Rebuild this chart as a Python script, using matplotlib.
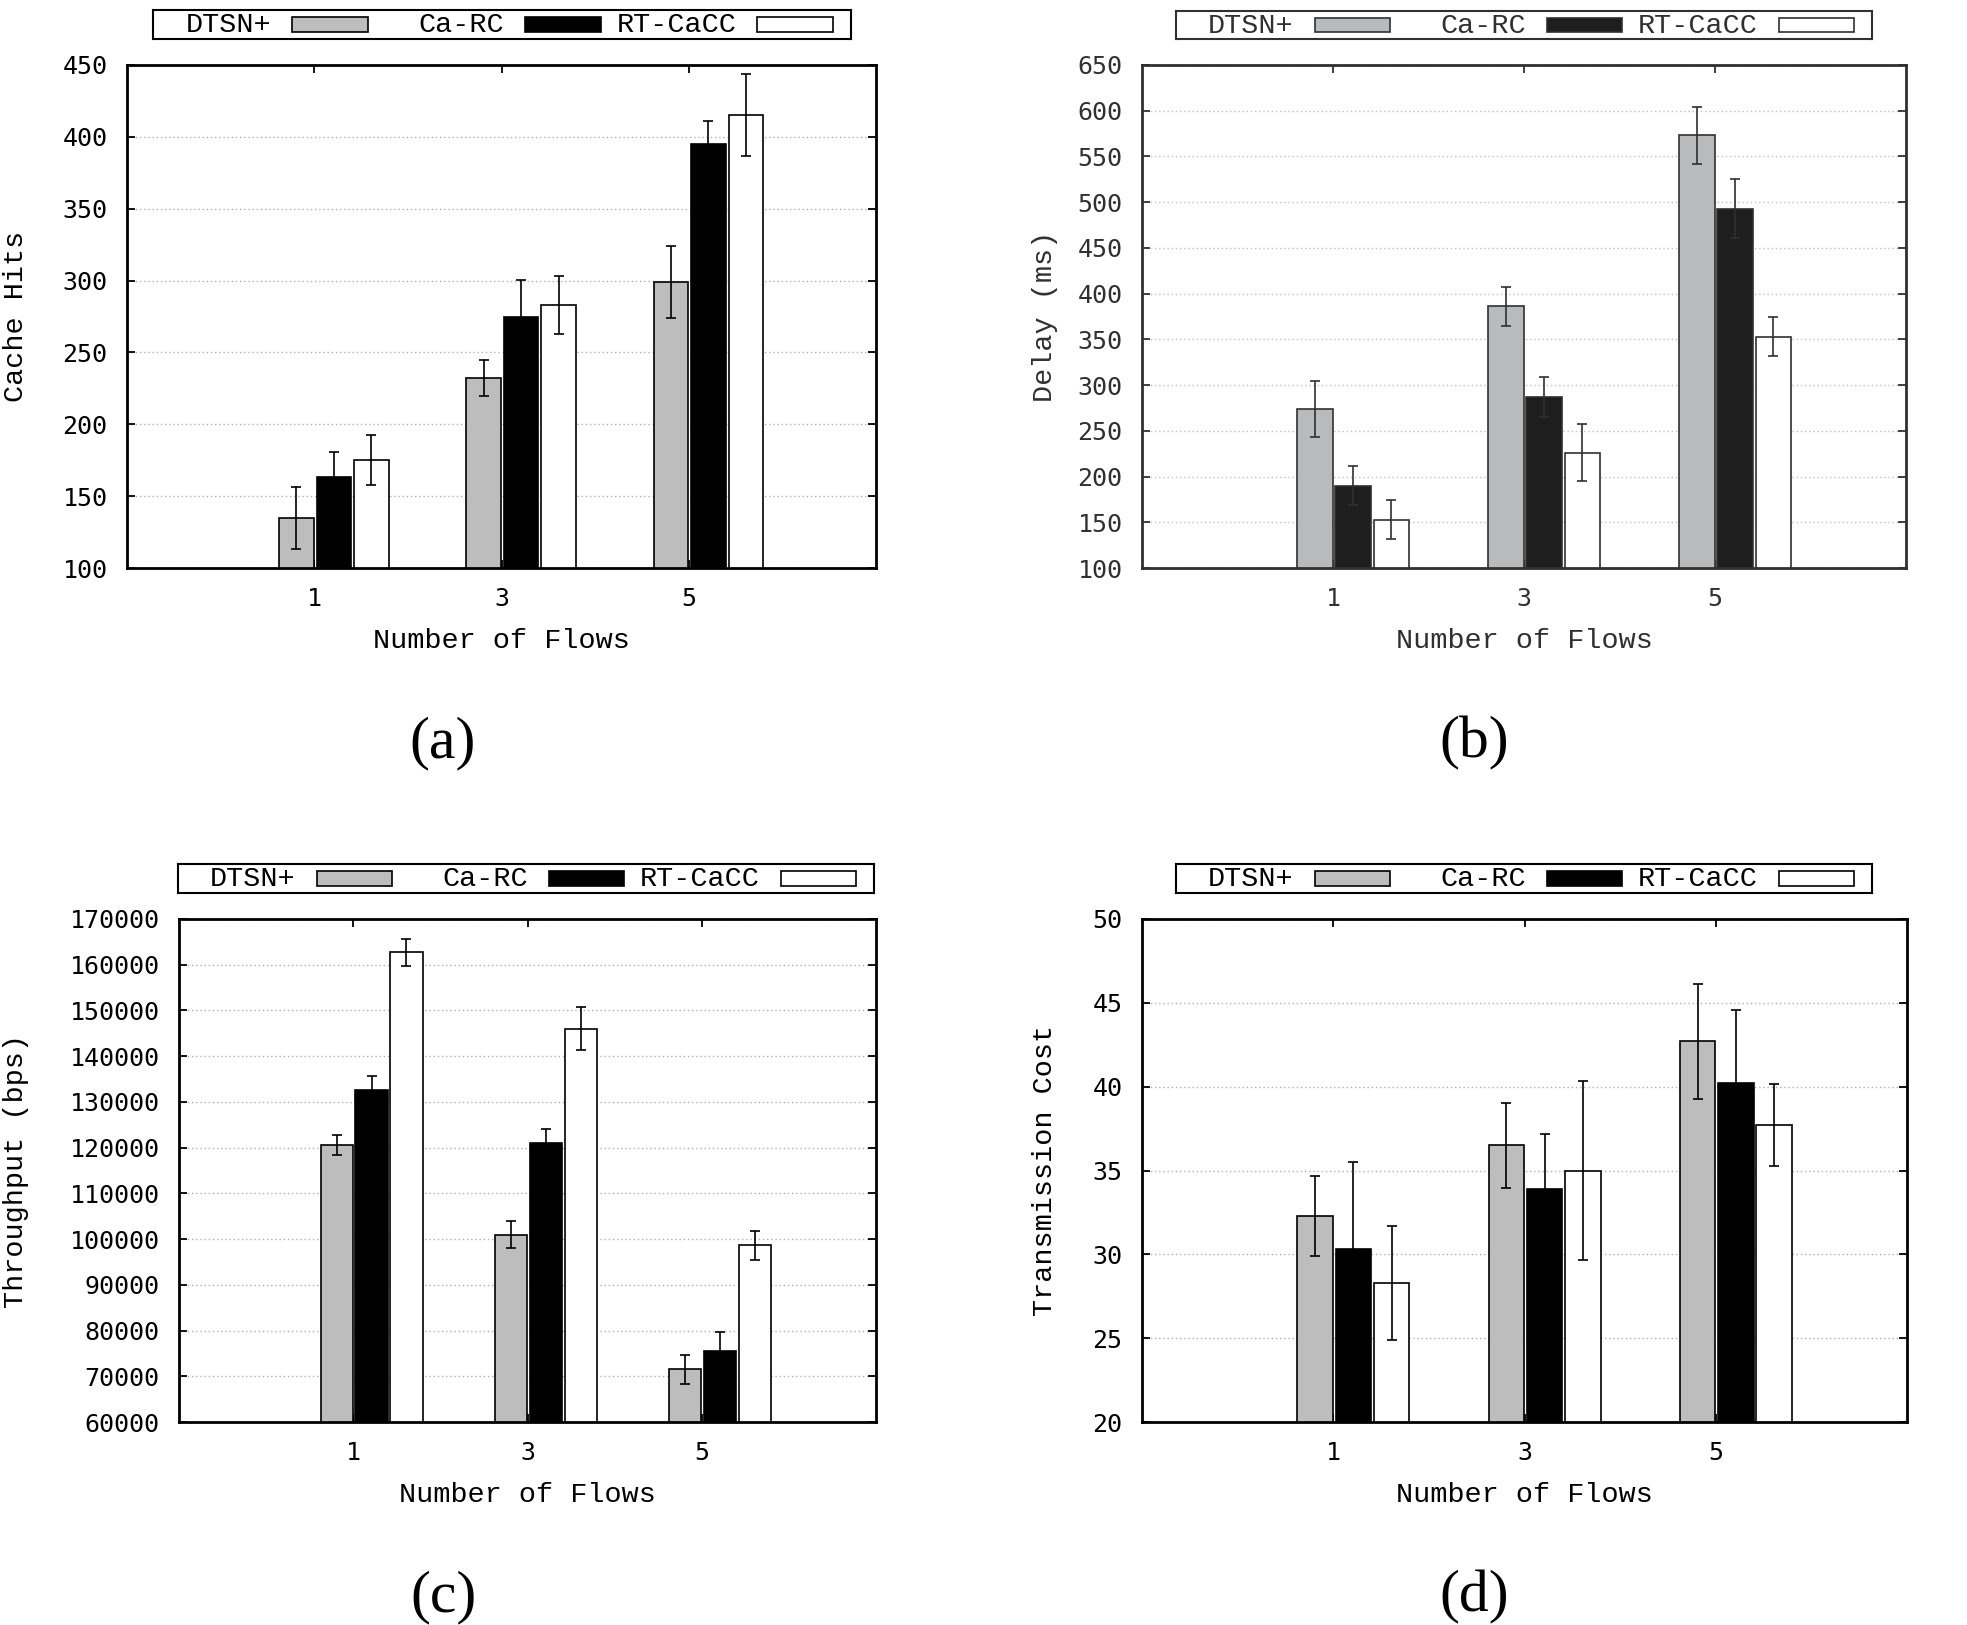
import matplotlib
matplotlib.use("Agg")
import matplotlib.pyplot as plt
import numpy as np
from matplotlib.patches import Rectangle

# data
flows = [1, 3, 5]
series = ["DTSN+", "Ca-RC", "RT-CaCC"]

cache_dtsn = [135, 232, 299]
cache_dtsn_err = [21.5, 12.5, 25]
cache_carc = [163, 275, 395]
cache_carc_err = [17.5, 25.5, 16]
cache_rt = [175, 283, 415]
cache_rt_err = [17.5, 20.5, 28.5]

delay_dtsn = [274, 386, 573]
delay_dtsn_err = [31, 21.5, 31]
delay_carc = [190, 287, 493]
delay_carc_err = [21.5, 21.5, 32]
delay_rt = [153, 226, 353]
delay_rt_err = [21, 31, 21.5]

thr_dtsn = [120600, 101000, 71500]
thr_dtsn_err = [2250, 3000, 3150]
thr_carc = [132700, 121000, 75500]
thr_carc_err = [2950, 3000, 4200]
thr_rt = [162700, 146000, 98600]
thr_rt_err = [2950, 4750, 3150]

cost_dtsn = [32.3, 36.5, 42.7]
cost_dtsn_err = [2.4, 2.55, 3.45]
cost_carc = [30.3, 33.9, 40.2]
cost_carc_err = [5.2, 3.3, 4.4]
cost_rt = [28.3, 35.0, 37.7]
cost_rt_err = [3.4, 5.35, 2.45]

W, H = 1967, 1625
fig = plt.figure(figsize=(W / 100, H / 100), dpi=100)

MONO = "Liberation Mono"
TICKF = "DejaVu Sans Mono"


def fx(x):
    return x / W


def fy(y):
    return 1 - y / H


def draw_key(left, right, top, bottom, colors, ink):
    # gnuplot style horizontal key: text then sample box
    kx = fig.add_axes([fx(left), fy(bottom), fx(right - left), (bottom - top) / H])
    kx.set_xlim(0, 1)
    kx.set_ylim(0, 1)
    kx.set_xticks([])
    kx.set_yticks([])
    for s in kx.spines.values():
        s.set_linewidth(1.5)
        s.set_color(ink)
    for i, name in enumerate(series):
        c0 = i / 3
        kx.text(c0 + 0.169, 0.47, name, ha="right", va="center",
                family=MONO, fontsize=20.5, color=ink)
        kx.add_patch(Rectangle((c0 + 0.199, 0.25), 0.109, 0.5,
                               facecolor=colors[i], edgecolor=ink, lw=1.2))


def panel(box, key, data, errs, ylim, yticks, ylabel, ylab_x, letter,
          colors, ink="black", grid_c="#b0b0b0"):
    left, top, right, bottom = box
    ax = fig.add_axes([fx(left), fy(bottom), fx(right - left), (bottom - top) / H])
    x = np.array(flows, dtype=float)
    offsets = [-0.19, 0.21, 0.61]
    for vals, err, off, col in zip(data, errs, offsets, colors):
        ax.bar(x + off, vals, width=0.37, color=col, edgecolor=ink,
               linewidth=1.2, zorder=2)
        ax.errorbar(x + off, vals, yerr=err, fmt="none", ecolor=ink,
                    elinewidth=1.2, capsize=3.5, capthick=1.2, zorder=3)
    ax.set_xlim(-1, 7)
    ax.set_ylim(*ylim)
    ax.set_xticks(flows)
    ax.set_xticklabels([str(f) for f in flows], family=TICKF, fontsize=18, color=ink)
    ax.set_yticks(yticks)
    ax.set_yticklabels([str(t) for t in yticks], family=TICKF, fontsize=18, color=ink)
    ax.tick_params(direction="in", length=6, width=1.3, top=True, right=True,
                   color=ink)
    ax.tick_params(axis="y", pad=14)
    ax.tick_params(axis="x", pad=14)
    for s in ax.spines.values():
        s.set_linewidth(2)
        s.set_color(ink)
    ax.yaxis.grid(True, linestyle=(0, (1, 2)), color=grid_c, linewidth=1.0, zorder=0)
    ax.set_axisbelow(True)

    fig.text(fx(ylab_x), fy((top + bottom) / 2), ylabel, rotation=90,
             ha="center", va="center", family=MONO, fontsize=20.5, color=ink)
    fig.text(fx((left + right) / 2), fy(bottom + 73), "Number of Flows",
             ha="center", va="center", family=MONO, fontsize=20.5, color=ink)
    fig.text(fx(443 if left < 900 else 1474), fy(bottom + 175), letter,
             ha="center", va="center", family="Liberation Serif", fontsize=43)
    draw_key(*key, colors, ink)
    return ax


light = ["#bdbdbd", "black", "white"]
scan = ["#b9babc", "#1e1e1e", "white"]

panel((127, 65, 876, 568), (153, 851, 10, 39),
      [cache_dtsn, cache_carc, cache_rt],
      [cache_dtsn_err, cache_carc_err, cache_rt_err],
      (100, 450), list(range(100, 451, 50)), "Cache Hits", 16, "(a)", light)

panel((1142, 65, 1906, 568), (1176, 1872, 11, 39),
      [delay_dtsn, delay_carc, delay_rt],
      [delay_dtsn_err, delay_carc_err, delay_rt_err],
      (100, 650), list(range(100, 651, 50)), "Delay (ms)", 1045, "(b)", scan,
      ink="#303030", grid_c="#c0c0c0")

panel((179, 919, 876, 1422), (178, 874, 864, 893),
      [thr_dtsn, thr_carc, thr_rt],
      [thr_dtsn_err, thr_carc_err, thr_rt_err],
      (60000, 170000), list(range(60000, 170001, 10000)), "Throughput (bps)", 16,
      "(c)", light)

panel((1142, 919, 1907, 1422), (1176, 1872, 864, 893),
      [cost_dtsn, cost_carc, cost_rt],
      [cost_dtsn_err, cost_carc_err, cost_rt_err],
      (20, 50), list(range(20, 51, 5)), "Transmission Cost", 1045, "(d)", light)

fig.savefig("out.png", dpi=100)
